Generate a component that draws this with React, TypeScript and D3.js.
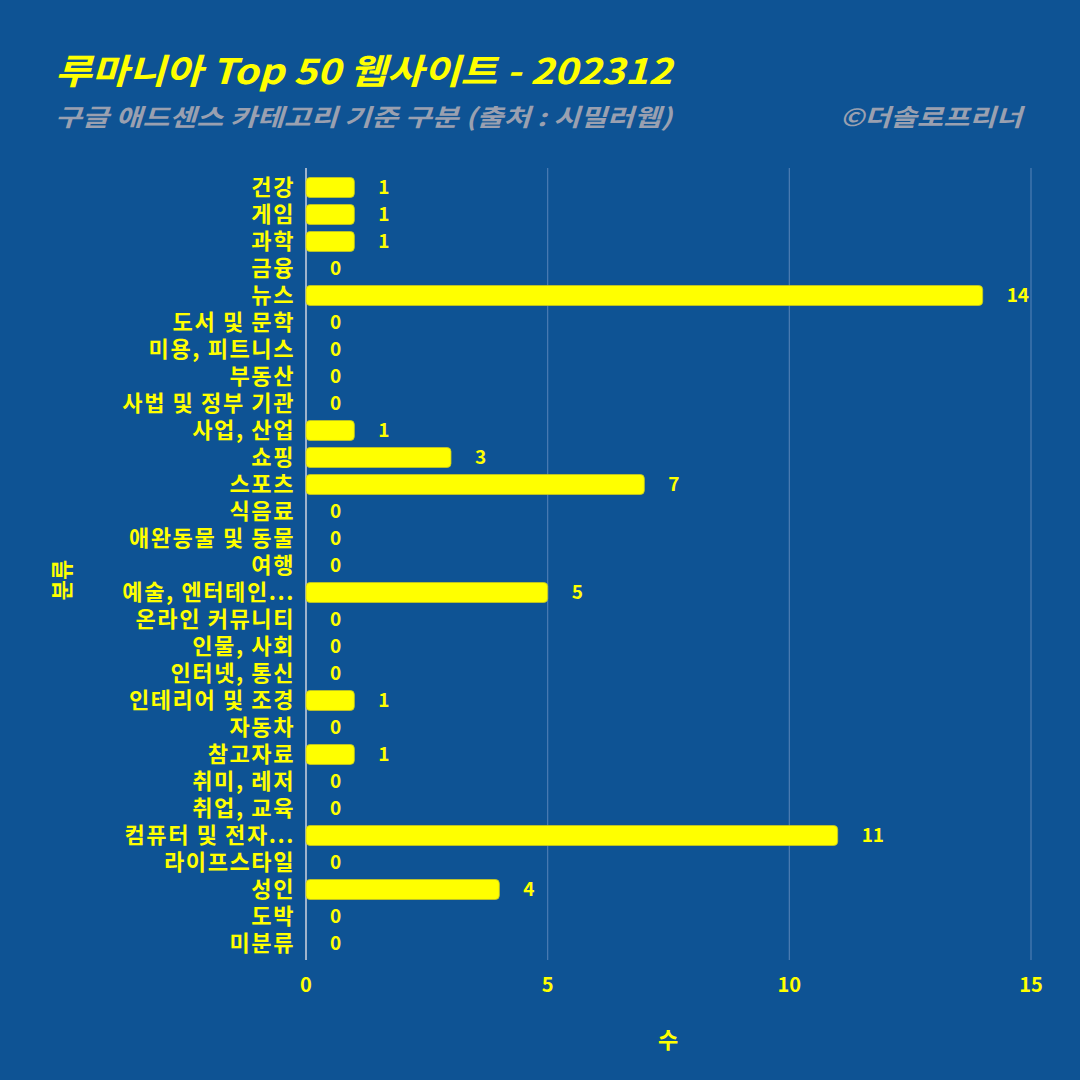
import React from "react";
import * as d3 from "d3";

const categories = [
  "건강", "게임", "과학", "금융", "뉴스", "도서 및 문학", "미용, 피트니스", "부동산",
  "사법 및 정부 기관", "사업, 산업", "쇼핑", "스포츠", "식음료", "애완동물 및 동물", "여행",
  "예술, 엔터테인...", "온라인 커뮤니티", "인물, 사회", "인터넷, 통신", "인테리어 및 조경",
  "자동차", "참고자료", "취미, 레저", "취업, 교육", "컴퓨터 및 전자...", "라이프스타일",
  "성인", "도박", "미분류",
];
const counts = [1, 1, 1, 0, 14, 0, 0, 0, 0, 1, 3, 7, 0, 0, 0, 5, 0, 0, 0, 1, 0, 1, 0, 0, 11, 0, 4, 0, 0];
const xTicks = [0, 5, 10, 15];

const title = "루마니아 Top 50 웹사이트 - 202312";
const subtitle = "구글 애드센스 카테고리 기준 구분 (출처 : 시밀러웹)";
const credit = "©더솔로프리너";
const xTitle = "수";
const yTitle = "분류";

const W = 1080;
const H = 1080;
const BG = "#0E5394";
const YEL = "#FFFF00";
const FONT = "'Noto Sans CJK KR', 'Noto Sans', sans-serif";

export default function App() {
  const x = d3.scaleLinear().domain([0, 15]).range([306, 1031]);
  const y = d3.scaleBand<string>().domain(categories).range([174, 957]).paddingInner(0.26).paddingOuter(0.13);
  const gridTop = 168;
  const gridBottom = 960;

  return (
    <svg width={W} height={H} style={{ position: "absolute", left: 0, top: 0, display: "block" }}>
      <rect x={0} y={0} width={W} height={H} fill={BG} />
      {xTicks.map((t) => (
        <line key={t} x1={x(t)} x2={x(t)} y1={gridTop} y2={gridBottom}
          stroke={t === 0 ? "#9fb3cc" : "#4d7db3"} strokeWidth={t === 0 ? 2 : 1.2} />
      ))}
      {categories.map((c, i) => {
        const v = counts[i];
        const yy = y(c)!;
        const bw = y.bandwidth();
        const cy = yy + bw / 2;
        return (
          <g key={c}>
            {v > 0 && (
              <rect x={x(0)} y={yy} width={x(v) - x(0)} height={bw} rx={4} ry={4}
                fill={YEL} stroke="#c8c820" strokeWidth={0.8} />
            )}
            <text x={x(v) + 24} y={cy} dy="0.36em" fill={YEL} fontFamily={FONT}
              fontWeight={700} fontSize={19}>{v}</text>
            <text x={295} y={cy} dy="0.36em" textAnchor="end" fill={YEL} fontFamily={FONT}
              fontWeight={700} fontSize={22} letterSpacing={1.6}>{c}</text>
          </g>
        );
      })}
      {xTicks.map((t) => (
        <text key={"t" + t} x={x(t)} y={985} dy="0.36em" textAnchor="middle" fill={YEL}
          fontFamily={FONT} fontWeight={700} fontSize={20}>{t}</text>
      ))}
      <text x={668} y={1040} dy="0.36em" textAnchor="middle" fill={YEL} fontFamily={FONT}
        fontWeight={700} fontSize={22}>{xTitle}</text>
      <text transform="translate(62,580) rotate(-90)" dy="0.36em" textAnchor="middle" fill={YEL}
        fontFamily={FONT} fontWeight={700} fontSize={22}>{yTitle}</text>
      <text x={55} y={84} fill={YEL} fontFamily={FONT} fontWeight={700} fontStyle="italic"
        fontSize={35} textLength={617} lengthAdjust="spacingAndGlyphs">{title}</text>
      <text x={55} y={126} fill="#9aa0b0" fontFamily={FONT} fontWeight={700} fontStyle="italic"
        fontSize={24} textLength={617} lengthAdjust="spacingAndGlyphs">{subtitle}</text>
      <text x={840} y={126} fill="#9aa0b0" fontFamily={FONT} fontWeight={700}
        fontStyle="italic" fontSize={24} textLength={182} lengthAdjust="spacingAndGlyphs">{credit}</text>
    </svg>
  );
}
